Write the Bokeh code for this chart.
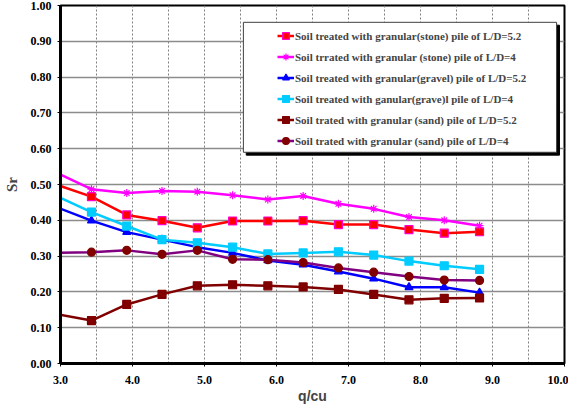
from bokeh.plotting import figure
from bokeh.models import Legend, LegendItem, FixedTicker, PrintfTickFormatter, BoxAnnotation
from bokeh.embed import file_html
from bokeh.resources import INLINE

# ---- data ----
q_cu = [2.94, 3.43, 3.92, 4.41, 4.90, 5.39, 5.88, 6.37, 6.86, 7.35, 7.84, 8.33, 8.82]
stone_52 = [0.500, 0.466, 0.415, 0.399, 0.379, 0.398, 0.398, 0.399, 0.388, 0.388, 0.374, 0.364, 0.368]
stone_4 = [0.533, 0.487, 0.476, 0.482, 0.480, 0.470, 0.458, 0.468, 0.446, 0.432, 0.409, 0.400, 0.385]
gravel_52 = [0.437, 0.399, 0.367, 0.346, 0.325, 0.309, 0.288, 0.276, 0.257, 0.237, 0.213, 0.213, 0.198]
gravel_4 = [0.468, 0.423, 0.384, 0.346, 0.337, 0.325, 0.306, 0.309, 0.312, 0.303, 0.286, 0.273, 0.263]
sand_52 = [0.138, 0.120, 0.165, 0.193, 0.217, 0.220, 0.217, 0.214, 0.207, 0.193, 0.178, 0.182, 0.183]
sand_4 = [0.309, 0.311, 0.316, 0.305, 0.316, 0.291, 0.290, 0.282, 0.267, 0.255, 0.243, 0.233, 0.232]

labels = [
    "Soil treated with granular(stone) pile of L/D=5.2",
    "Soil trrated with granular (stone) pile of L/D=4",
    "Soil treated with granular(gravel) pile of L/D=5.2",
    "Soil treated with ganular(grave)l pile of L/D=4",
    "Soil trated with granular (sand) pile of L/D=5.2",
    "Soil trated with granular (sand) pile of L/D=4",
]
x_ticks = [3, 4, 5, 6, 7, 8, 9, 10]
y_ticks = [0.0, 0.1, 0.2, 0.3, 0.4, 0.5, 0.6, 0.7, 0.8, 0.9, 1.0]
x_grid = [3.5, 4.0, 4.5, 5.0, 5.5, 6.0, 6.5, 7.0, 7.5, 8.0, 8.5, 9.0, 9.5]

SERIF = "'Liberation Serif'"
SANS = "'Liberation Sans'"

p = figure(width=568, height=406, x_range=(3, 10), y_range=(0, 1),
           output_backend="svg", toolbar_location=None,
           min_border_left=50, min_border_right=4, min_border_top=5, min_border_bottom=42)
p.background_fill_color = "white"
p.outline_line_color = "black"
p.outline_line_width = 2

p.xaxis.ticker = FixedTicker(ticks=x_ticks)
p.yaxis.ticker = FixedTicker(ticks=y_ticks)
p.xaxis.formatter = PrintfTickFormatter(format="%.1f")
p.yaxis.formatter = PrintfTickFormatter(format="%.2f")
for ax in (p.xaxis, p.yaxis):
    ax.axis_line_width = 3
    ax.axis_line_color = "black"
    ax.major_tick_line_color = "black"
    ax.major_tick_out = 3
    ax.major_tick_in = 0
    ax.minor_tick_line_color = None
    ax.major_label_text_font = SERIF
    ax.major_label_text_font_style = "bold"
    ax.major_label_text_font_size = "12px"
    ax.major_label_text_color = "black"
p.xaxis.major_label_standoff = 9
p.yaxis.major_label_standoff = 6
p.xaxis.axis_label = "q/cu"
p.xaxis.axis_label_text_font = SANS
p.xaxis.axis_label_text_font_style = "bold"
p.xaxis.axis_label_text_font_size = "14px"
p.xaxis.axis_label_standoff = 1
p.yaxis.axis_label = "Sr"
p.yaxis.axis_label_text_font = SERIF
p.yaxis.axis_label_text_font_style = "bold"
p.yaxis.axis_label_text_font_size = "15px"
p.yaxis.axis_label_standoff = 8

p.ygrid.grid_line_color = "#8c8c8c"
p.ygrid.grid_line_width = 1.5
p.xgrid.ticker = FixedTicker(ticks=x_grid)
p.xgrid.grid_line_color = "#808080"
p.xgrid.grid_line_dash = "2 2"
p.xgrid.grid_line_width = 1

series = [
    (stone_52, "#FF0000", "square", "#FF0000", "#FF00CC", 8),
    (stone_4, "#FF00FF", "asterisk", "#FF00FF", "#FF00FF", 8),
    (gravel_52, "#0000FF", "triangle", "#0000FF", "#0000FF", 8),
    (gravel_4, "#00CCFF", "square", "#00CCFF", "#00CCFF", 8),
    (sand_52, "#800000", "square", "#800000", "#800000", 8),
    (sand_4, "#800080", "circle", "#800000", "#800000", 8),
]

items = []
for (ys, lc, mk, fc, oc, sz), lab in zip(series, labels):
    r1 = p.line(q_cu, ys, line_color=lc, line_width=2.5)
    r2 = p.scatter(q_cu, ys, marker=mk, size=sz, fill_color=fc, line_color=oc, line_width=1.2)
    items.append(LegendItem(label=lab, renderers=[r1, r2]))

# legend box (with shadow) in data coordinates
shadow = BoxAnnotation(left=5.58, right=9.93, bottom=0.582, top=0.945,
                       fill_color="black", fill_alpha=1, line_color="black", line_alpha=1)
box = BoxAnnotation(left=5.54, right=9.89, bottom=0.590, top=0.953,
                    fill_color="white", fill_alpha=1, line_color="#404040", line_width=1, line_alpha=1)
p.add_layout(shadow)
p.add_layout(box)

legend = Legend(items=items, location=(217, 212), padding=0, margin=0, spacing=0,
                glyph_width=17, glyph_height=21, label_height=21, label_standoff=1,
                label_text_font=SERIF, label_text_font_style="bold", label_text_font_size="11px",
                border_line_alpha=0, background_fill_alpha=0)
p.add_layout(legend, "center")

open("out.html", "w").write(file_html(p, INLINE))
